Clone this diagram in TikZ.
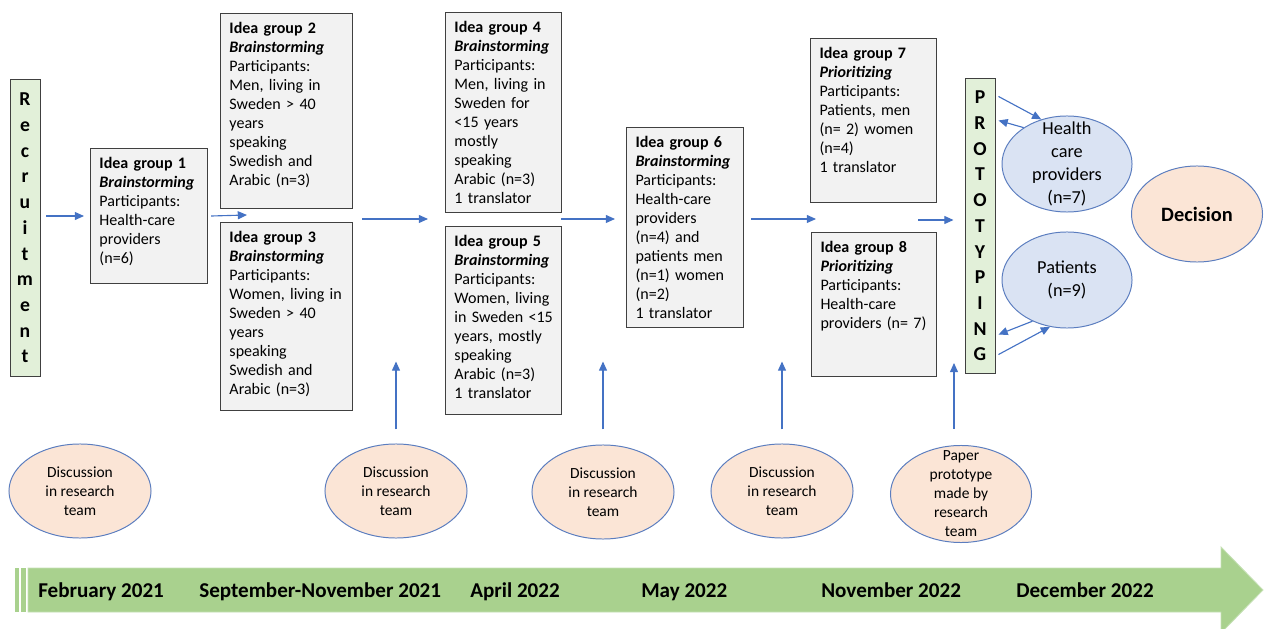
\documentclass[tikz,border=0pt]{standalone}
\usepackage{fontspec}
\setmainfont{Carlito}
\usepackage{tikz}
\usetikzlibrary{shapes.geometric,arrows.meta}
\definecolor{boxgray}{HTML}{F2F2F2}
\definecolor{boxline}{HTML}{404040}
\definecolor{lightgreen}{HTML}{E2F0D9}
\definecolor{ovalline}{HTML}{5B7DBF}
\definecolor{ovalblue}{HTML}{DAE3F3}
\definecolor{peach}{HTML}{FBE5D6}
\definecolor{arrowblue}{HTML}{4472C4}
\definecolor{timegreen}{HTML}{A9D18E}
\definecolor{timeedge}{HTML}{C5E0B4}
\tikzstyle{idea}=      [draw=boxline, line width=0.7pt, fill=boxgray, anchor=north west, align=left, inner xsep=0.225cm, inner ysep=0.125cm, text height=0.375cm, font=\fontsize{11.4}{13.5}\selectfont]
\tikzstyle{phase}=     [draw=boxline, line width=0.7pt, fill=lightgreen, minimum width=0.75cm, align=center, inner sep=0pt, font=\fontsize{14}{18.3}\selectfont\bfseries]
\tikzstyle{oval}=      [ellipse, draw=ovalline, line width=0.7pt, inner sep=0pt, align=center]
\tikzstyle{panel}=     [oval, fill=ovalblue, minimum width=3.25cm, minimum height=2.4cm, font=\fontsize{13}{16.2}\selectfont]
\tikzstyle{team}=      [oval, fill=peach, minimum width=3.55cm, minimum height=2.35cm, font=\fontsize{11}{13.5}\selectfont]
\tikzstyle{flowarrow}= [draw=arrowblue, line width=0.8pt, -{Triangle[length=2.3mm,width=2mm]}]
\tikzstyle{month}=     [anchor=base west, inner sep=0pt, font=\fontsize{15}{18}\selectfont\bfseries]

\begin{document}
\begin{tikzpicture}[x=0.025cm, y=-0.025cm]
 \useasboundingbox (0,0) rectangle (1264,629);

 \node[phase, minimum height=7.4cm] (rec) at (25,228) {R\\e\\c\\r\\u\\i\\t\\m\\e\\n\\t};
 \node[phase, minimum height=7.35cm] (proto) at (980,226) {P\\R\\O\\T\\O\\T\\Y\\P\\I\\N\\G};

 \node[idea, text width=2.475cm, text depth=2.75cm] (ig1) at (90,148)
  {\textbf{Idea group 1}\\\textbf{\textit{Brainstorming}}\\Participants:\\Health-care\\providers\\(n=6)};
 \node[idea, text width=2.85cm, text depth=4.25cm] (ig2) at (220,13)
  {\textbf{Idea group 2}\\\textbf{\textit{Brainstorming}}\\Participants:\\Men, living in\\Sweden > 40\\years\\speaking\\Swedish and\\Arabic (n=3)};
 \node[idea, text width=2.85cm, text depth=4.075cm] (ig3) at (220,222)
  {\textbf{Idea group 3}\\\textbf{\textit{Brainstorming}}\\Participants:\\\mbox{Women, living in}\\Sweden > 40\\years\\speaking\\Swedish and\\Arabic (n=3)};
 \node[idea, text width=2.45cm, text depth=4.375cm] (ig4) at (445,12)
  {\textbf{Idea group 4}\\\textbf{\textit{Brainstorming}}\\Participants:\\Men, living in\\Sweden for\\<15 years\\mostly\\speaking\\Arabic (n=3)\\1 translator};
 \node[idea, text width=2.45cm, text depth=4.075cm] (ig5) at (445,226)
  {\textbf{Idea group 5}\\\textbf{\textit{Brainstorming}}\\Participants:\\Women, living\\\mbox{in Sweden <15}\\years, mostly\\speaking\\Arabic (n=3)\\1 translator};
 \node[idea, text width=2.475cm, text depth=4.375cm] (ig6) at (626,127)
  {\textbf{Idea group 6}\\\textbf{\textit{Brainstorming}}\\Participants:\\Health-care\\providers\\(n=4) and\\patients men\\(n=1) women\\(n=2)\\1 translator};
 \node[idea, text width=2.7cm, text depth=3.475cm] (ig7) at (810,38)
  {\textbf{Idea group 7}\\\textbf{\textit{Prioritizing}}\\Participants:\\Patients, men\\(n= 2) women\\(n=4)\\1 translator};
 \node[idea, text width=2.675cm, text depth=2.975cm] (ig8) at (811,232)
  {\textbf{Idea group 8}\\\textbf{\textit{Prioritizing}}\\Participants:\\Health-care\\\mbox{providers (n= 7)}};

 \node[panel, label={[align=center, font=\fontsize{13}{16.2}\selectfont]center:Health\\care\\providers\\(n=7)}] (hcp) at (1067,164) {};
 \node[panel] (pat) at (1067,280) {Patients\\(n=9)};
 \node[oval, fill=peach, minimum width=3.275cm, minimum height=2.4cm, font=\fontsize{14.5}{17}\selectfont\bfseries] (dec) at (1197,214) {Decision};

 \node[team] (d1) at (80,491) {Discussion\\in research\\team};
 \node[team] (d2) at (396,491) {Discussion\\in research\\team};
 \node[team] (d3) at (603,492) {Discussion\\in research\\team};
 \node[team] (d4) at (782,491) {Discussion\\in research\\team};
 \node[team, minimum width=3.525cm, minimum height=2.425cm, label={[align=center, font=\fontsize{11}{13.5}\selectfont]center:Paper\\prototype\\made by\\research\\team}] (paper) at (961,494) {};

 \coordinate (gap23) at (247,215);
 \coordinate (out23) at (362,219);
 \coordinate (gap45) at (428,219);
 \coordinate (out45) at (561,219);
 \coordinate (gap78) at (816,219);
 \coordinate (out78) at (918,220);

 \draw[flowarrow] ([xshift=0.15cm]rec.east |- ig1.west) -- ([xshift=-0.15cm]ig1.west);
 \draw[flowarrow] ([xshift=0.075cm]ig1.east) -- (gap23);
 \draw[flowarrow] (out23) -- (gap45);
 \draw[flowarrow] (out45) -- ([xshift=-0.275cm]ig6.west |- out45);
 \draw[flowarrow] ([xshift=0.175cm]ig6.east |- gap78) -- (gap78);
 \draw[flowarrow] (out78) -- ([xshift=-0.275cm]proto.west |- out78);

 \draw[flowarrow] ([shift={(0.075cm,-0.45cm)}]proto.north east) -- (hcp.120);
 \draw[flowarrow] (hcp.140) -- ([shift={(0.075cm,-1.05cm)}]proto.north east);
 \draw[flowarrow] (pat.230) -- ([shift={(0.075cm,0.975cm)}]proto.south east);
 \draw[flowarrow] ([shift={(0.075cm,0.475cm)}]proto.south east) -- (pat.250);

 \draw[flowarrow] ([yshift=0.35cm]d2.north) -- ([yshift=2.05cm]d2.north);
 \draw[flowarrow] ([yshift=0.375cm]d3.north) -- ([yshift=2.075cm]d3.north);
 \draw[flowarrow] ([yshift=0.35cm]d4.north) -- ([yshift=2.05cm]d4.north);
 \draw[flowarrow] ([shift={(-0.175cm,0.4cm)}]paper.north) -- ([shift={(-0.175cm,2.05cm)}]paper.north);

 \fill[timegreen] (15,568) rectangle (19,612);
 \fill[timegreen] (21,568) rectangle (26,612);
 \filldraw[fill=timegreen, draw=timeedge, line width=0.6pt] (28,568) -- (1221,568) -- (1221,547) -- (1263,590) -- (1221,633) -- (1221,612) -- (28,612) -- cycle;

 \node[month] (m1) at (38,597) {February 2021};
 \node[month] (m2) at (199,597) {September-November 2021};
 \node[month] (m3) at (470,597) {April 2022};
 \node[month] (m4) at (641,597) {May 2022};
 \node[month] (m5) at (821,597) {November 2022};
 \node[month] (m6) at (1016,597) {December 2022};
\end{tikzpicture}
\end{document}
